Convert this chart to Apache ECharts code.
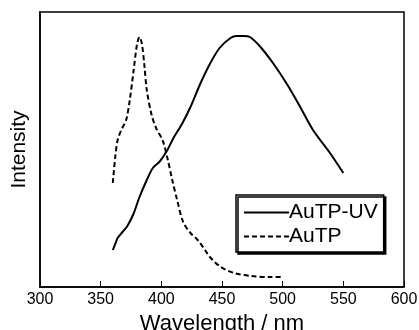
<!DOCTYPE html>
<html>
<head>
<meta charset="utf-8">
<script src="https://cdn.jsdelivr.net/npm/echarts@6/dist/echarts.min.js"></script>
<style>
  html, body { margin: 0; padding: 0; background: #fff; }
  #chart { width: 419px; height: 330px; }
</style>
</head>
<body>
<div id="chart"></div>
<script>
// AuTP-UV (solid) emission, arbitrary intensity units
const uvWave = [360, 362, 364, 368, 372, 377, 382, 388, 393, 399, 405, 410, 417, 424,
  432, 440, 448, 457, 462, 468, 473, 481, 492, 504, 514, 525, 539, 550];
const uvVal = [37, 43, 49, 55, 61, 73, 90, 107, 119, 126, 137, 149, 163, 180,
  203, 223, 239, 249, 251, 251, 250, 241, 224, 202, 181, 157, 134, 114];

// AuTP (dashed)
const tpWave = [360, 362, 364, 367, 371, 374, 377, 380, 382, 384, 386, 388, 392, 396,
  401, 405, 409, 413, 418, 424, 430, 436, 440, 449, 460, 474, 490, 500];
const tpVal = [104, 130, 147, 157, 167, 187, 215, 243, 250, 243, 222, 197, 172, 158,
  147, 129, 107, 87, 65, 54, 47, 37, 30, 20, 14, 11, 10, 10];

const xTicks = [300, 350, 400, 450, 500, 550, 600];

const font = "'Liberation Sans', Arial, sans-serif";
const zip = (xs, ys) => xs.map((x, i) => [x, ys[i]]);

const myChart = echarts.init(document.getElementById('chart'));

const options = {
  animation: false,
  textStyle: { fontFamily: font, color: '#000' },
  grid: {
    left: 40, right: 15, top: 12, bottom: 43,
    outerBoundsMode: 'none',
    show: true, borderColor: '#000', borderWidth: 1.5, backgroundColor: 'transparent'
  },
  legend: {
    orient: 'vertical',
    left: 236, top: 195,
    padding: [7, 6, 5, 7],
    itemGap: 3,
    itemWidth: 45, itemHeight: 20,
    backgroundColor: '#fff',
    borderColor: '#000', borderWidth: 1.5,
    shadowColor: '#000', shadowOffsetX: 2, shadowOffsetY: 2, shadowBlur: 0,
    // hide the symbol drawn on the legend line
    itemStyle: { color: 'transparent', borderWidth: 0, opacity: 0 },
    textStyle: { fontFamily: font, fontSize: 21, color: '#000', padding: [0, 0, 0, -5] },
    data: ['AuTP-UV', 'AuTP']
  },
  xAxis: {
    type: 'value',
    min: xTicks[0], max: xTicks[xTicks.length - 1], interval: 50,
    name: 'Wavelength / nm',
    nameLocation: 'middle', nameGap: 22,
    nameTextStyle: { fontFamily: font, fontSize: 22, color: '#000' },
    axisLine: { lineStyle: { color: '#000', width: 1.5 } },
    axisTick: { inside: true, length: 6, lineStyle: { color: '#000', width: 1 } },
    axisLabel: { fontFamily: font, fontSize: 16, color: '#000', margin: 5 },
    splitLine: { show: false }
  },
  yAxis: {
    type: 'value',
    min: 0, max: 275,
    name: 'Intensity',
    nameLocation: 'middle', nameGap: 10,
    nameTextStyle: { fontFamily: font, fontSize: 21, color: '#000' },
    axisLine: { show: true, lineStyle: { color: '#000', width: 1.5 } },
    axisTick: { show: false },
    axisLabel: { show: false },
    splitLine: { show: false }
  },
  series: [
    {
      name: 'AuTP-UV',
      type: 'line',
      symbol: 'none',
      smooth: 0.3,
      lineStyle: { color: '#000', width: 2 },
      itemStyle: { color: '#000' },
      data: zip(uvWave, uvVal)
    },
    {
      name: 'AuTP',
      type: 'line',
      symbol: 'none',
      smooth: 0.3,
      lineStyle: { color: '#000', width: 2, type: [5, 3] },
      itemStyle: { color: '#000' },
      data: zip(tpWave, tpVal)
    }
  ]
};

myChart.setOption(options);
</script>
</body>
</html>
